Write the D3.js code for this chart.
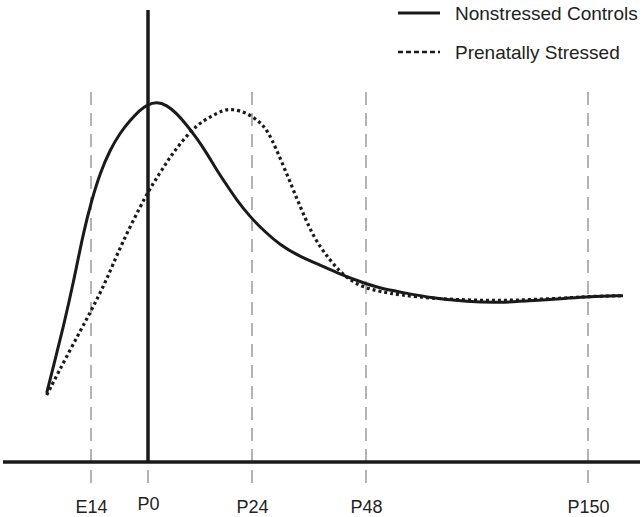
<!DOCTYPE html>
<html>
<head>
<meta charset="utf-8">
<script src="https://cdn.jsdelivr.net/npm/d3@7"></script>
<style>
  html, body { margin: 0; padding: 0; background: #fff; }
  svg { display: block; font-family: "Liberation Sans", Arial, sans-serif; }
</style>
</head>
<body>
<svg id="chart" width="643" height="517"></svg>
<script>
// Tick positions (age in days relative to birth; E14 = 7 days before birth)
const tickDays = [-7, 0, 24, 48, 150];
const tickLabels = ["E14", "P0", "P24", "P48", "P150"];

// Curve samples: age in days, relative level (0 = baseline axis)
const nonstressedDays = [-12.44, -11.63, -10.40, -9.17, -7.95, -6.91, -5.89, -4.67, -3.44, -2.21, -0.98, -0.16,
  2.01, 4.32, 6.62, 8.93, 11.24, 13.55, 15.85, 18.16, 20.47, 23.54, 26.32, 29.89, 34.11, 38.32, 42.53, 46.74,
  54.43, 63.62, 78.78, 94.27, 109.57, 124.73, 140.21, 150, 166.08];
const nonstressedVals = [15.27, 21.02, 29.87, 39.60, 50.66, 57.96, 63.94, 69.03, 72.79, 75.55, 77.88, 78.98,
  79.71, 78.98, 77.15, 74.56, 71.68, 68.36, 64.60, 61.28, 57.96, 54.27, 51.33, 48.01, 45.42, 43.58, 41.59, 39.89,
  38.43, 37.61, 36.22, 35.46, 35.24, 35.69, 36.22, 36.62, 36.79];

const stressedDays = [-12.44, -9.58, -7.12, -5.07, -3.44, -0.16, 2.77, 5.08, 8.08, 11.24, 14.31, 17.31, 19.62,
  22.78, 25.68, 27.79, 32.69, 36.21, 38.32, 40.42, 42.53, 44.63, 47.43, 54.43, 63.62, 78.78, 94.27, 109.57,
  124.73, 140.21, 150, 166.08];
const stressedVals = [14.82, 24.78, 32.96, 40.27, 47.57, 59.45, 63.94, 67.48, 71.24, 74.56, 76.33, 77.88, 78.10,
  77.28, 75.22, 72.79, 60.18, 51.33, 47.63, 44.69, 42.10, 40.27, 38.65, 37.68, 36.95, 36.17, 35.84, 35.69,
  35.95, 36.28, 36.62, 36.79];

const seriesNames = ["Nonstressed Controls", "Prenatally Stressed"];

const svg = d3.select("#chart");

// Piecewise-linear age axis (non-uniform spacing as in the original figure)
const x = d3.scaleLinear()
  .domain(tickDays)
  .range([91, 148, 252, 366, 588]);

const y = d3.scaleLinear().domain([0, 100]).range([462, 10]);

// Gray dashed reference lines
svg.append("g").selectAll("line")
  .data(tickDays).join("line")
  .attr("x1", d => x(d)).attr("x2", d => x(d))
  .attr("y1", 92).attr("y2", 487)
  .attr("stroke", "#b3b3b3")
  .attr("stroke-width", 2)
  .attr("stroke-dasharray", "13,8");

// Baseline (horizontal axis)
svg.append("line")
  .attr("x1", 3).attr("x2", 640)
  .attr("y1", y(0)).attr("y2", y(0))
  .attr("stroke", "#1a1a1a").attr("stroke-width", 3.5);

// Birth line (vertical at P0)
svg.append("line")
  .attr("x1", x(0)).attr("x2", x(0))
  .attr("y1", y(100)).attr("y2", y(0))
  .attr("stroke", "#1a1a1a").attr("stroke-width", 3.5);

// Tick labels via axis
const axis = d3.axisBottom(x)
  .tickValues(tickDays)
  .tickFormat((d, i) => tickLabels[i])
  .tickSize(0)
  .tickPadding(0);
const gAxis = svg.append("g")
  .attr("transform", "translate(0,513)")
  .call(axis);
gAxis.select(".domain").remove();
gAxis.selectAll("text")
  .attr("y", 0)
  .attr("dy", (d, i) => i === 1 ? "-0.15em" : "0")
  .attr("fill", "#222")
  .style("font-size", "18px")
  .style("font-family", "'Liberation Sans', Arial, sans-serif");

const line = d3.line()
  .x(d => x(d[0]))
  .y(d => y(d[1]))
  .curve(d3.curveBasis);

const nonstressed = nonstressedDays.map((d, i) => [d, nonstressedVals[i]]);
const stressed = stressedDays.map((d, i) => [d, stressedVals[i]]);

svg.append("path")
  .datum(stressed)
  .attr("d", line)
  .attr("fill", "none")
  .attr("stroke", "#1a1a1a")
  .attr("stroke-width", 3.2)
  .attr("stroke-dasharray", "3,3");

svg.append("path")
  .datum(nonstressed)
  .attr("d", line)
  .attr("fill", "none")
  .attr("stroke", "#1a1a1a")
  .attr("stroke-width", 3);

// Legend
const legend = svg.append("g");
const legendY = [13, 52];
legend.selectAll("line")
  .data(seriesNames).join("line")
  .attr("x1", 398).attr("x2", 440)
  .attr("y1", (d, i) => legendY[i]).attr("y2", (d, i) => legendY[i])
  .attr("stroke", "#1a1a1a")
  .attr("stroke-width", (d, i) => i === 0 ? 3 : 2.5)
  .attr("stroke-dasharray", (d, i) => i === 0 ? null : "5,3");
legend.selectAll("text")
  .data(seriesNames).join("text")
  .attr("x", 455)
  .attr("y", (d, i) => legendY[i])
  .attr("dy", "0.35em")
  .attr("fill", "#222")
  .style("font-size", "19px")
  .text(d => d);
</script>
</body>
</html>
